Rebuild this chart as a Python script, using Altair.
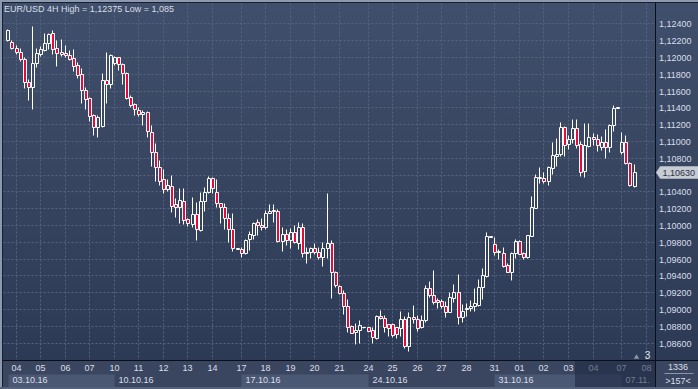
import altair as alt
import pandas as pd

# ---------------- data (EUR/USD 4H candles) ----------------
bar_open = [
    1.12204, 1.12176, 1.12104, 1.12057, 1.11977, 1.11700, 1.11648, 1.11926, 1.12037, 1.12085,
    1.12164, 1.12283, 1.12104, 1.12057, 1.12053, 1.12025, 1.11985, 1.11906, 1.11799, 1.11608,
    1.11509, 1.11311, 1.11164, 1.11180, 1.11724, 1.11676, 1.11926, 1.11997, 1.11918, 1.11807,
    1.11521, 1.11438, 1.11370, 1.11323, 1.11343, 1.11112, 1.10866, 1.10688, 1.10545, 1.10426,
    1.10470, 1.10251, 1.10212, 1.10291, 1.10073, 1.10013, 1.10128, 1.09942, 1.10291, 1.10398,
    1.10557, 1.10390, 1.10259, 1.10212, 1.10081, 1.09954, 1.09720, 1.09716, 1.09664, 1.09831,
    1.09882, 1.10033, 1.10001, 1.09982, 1.10140, 1.10168, 1.10172, 1.09815, 1.09890, 1.09823,
    1.09914, 1.09783, 1.09974, 1.09664, 1.09676, 1.09724, 1.09676, 1.09624, 1.09724, 1.09783,
    1.09438, 1.09279, 1.09188, 1.09037, 1.08799, 1.08724, 1.08751, 1.08781, 1.08783, 1.08751,
    1.08652, 1.08918, 1.08890, 1.08819, 1.08819, 1.08783, 1.08771, 1.08878, 1.08565, 1.08902,
    1.08878, 1.08783, 1.08870, 1.09247, 1.09168, 1.09109, 1.09097, 1.09041, 1.08970, 1.09136,
    1.09208, 1.08910, 1.08998, 1.09017, 1.09041, 1.09049, 1.09267, 1.09394, 1.09860, 1.09775,
    1.09676, 1.09664, 1.09525, 1.09446, 1.09664, 1.09815, 1.09664, 1.09617, 1.09874, 1.10208,
    1.10557, 1.10565, 1.10525, 1.10684, 1.10827, 1.10843, 1.11164, 1.10966, 1.11021, 1.11152,
    1.10962, 1.10644, 1.10946, 1.11045, 1.11025, 1.10934, 1.10985, 1.10934, 1.11192, 1.11396,
    1.10866, 1.10985, 1.10739, 1.10470,
]
bar_high = [
    1.12331, 1.12204, 1.12144, 1.12104, 1.11997, 1.11735, 1.12375, 1.12104, 1.12132, 1.12283,
    1.12291, 1.12323, 1.12204, 1.12216, 1.12144, 1.12085, 1.12093, 1.11946, 1.11874, 1.11648,
    1.11529, 1.11319, 1.11311, 1.11807, 1.12057, 1.12033, 1.12013, 1.12005, 1.11934, 1.11827,
    1.11549, 1.11450, 1.11402, 1.11370, 1.11362, 1.11192, 1.10974, 1.10775, 1.10664, 1.10545,
    1.10597, 1.10319, 1.10438, 1.10438, 1.10089, 1.10331, 1.10279, 1.10398, 1.10458, 1.10585,
    1.10577, 1.10545, 1.10267, 1.10259, 1.10140, 1.10140, 1.09726, 1.09743, 1.09835, 1.09930,
    1.10041, 1.10069, 1.10081, 1.10180, 1.10251, 1.10247, 1.10188, 1.09982, 1.09954, 1.09962,
    1.10001, 1.10041, 1.10021, 1.09743, 1.09743, 1.09783, 1.09743, 1.09803, 1.10378, 1.09823,
    1.09454, 1.09287, 1.09228, 1.09116, 1.08811, 1.08831, 1.08870, 1.08787, 1.08791, 1.08791,
    1.08930, 1.08990, 1.08930, 1.08823, 1.08831, 1.08791, 1.08978, 1.08922, 1.08970, 1.09049,
    1.08930, 1.08930, 1.09287, 1.09335, 1.09466, 1.09128, 1.09121, 1.09097, 1.09208, 1.09295,
    1.09414, 1.09057, 1.09069, 1.09109, 1.09255, 1.09355, 1.09494, 1.09922, 1.09866, 1.09863,
    1.09716, 1.09744, 1.09545, 1.09684, 1.09835, 1.09823, 1.09684, 1.09882, 1.10351, 1.10605,
    1.10696, 1.10628, 1.10708, 1.10993, 1.11033, 1.11224, 1.11184, 1.11073, 1.11263, 1.11263,
    1.11001, 1.11212, 1.11212, 1.11093, 1.11081, 1.11065, 1.11144, 1.11200, 1.11430, 1.11400,
    1.11105, 1.11073, 1.10755, 1.10724,
]
bar_low = [
    1.12196, 1.12093, 1.12037, 1.11958, 1.11636, 1.11489, 1.11378, 1.11878, 1.12013, 1.12077,
    1.12093, 1.12037, 1.11898, 1.12013, 1.12005, 1.11966, 1.11839, 1.11747, 1.11458, 1.11386,
    1.11243, 1.11073, 1.11045, 1.11172, 1.11458, 1.11636, 1.11906, 1.11847, 1.11680, 1.11497,
    1.11402, 1.11311, 1.11299, 1.11192, 1.11053, 1.10708, 1.10529, 1.10478, 1.10378, 1.10410,
    1.10160, 1.10093, 1.10021, 1.10013, 1.09993, 1.09982, 1.09823, 1.09934, 1.10172, 1.10378,
    1.10386, 1.10212, 1.10021, 1.09950, 1.09803, 1.09692, 1.09718, 1.09624, 1.09656, 1.09704,
    1.09835, 1.09882, 1.09942, 1.09954, 1.10140, 1.10041, 1.09803, 1.09692, 1.09763, 1.09724,
    1.09783, 1.09716, 1.09624, 1.09545, 1.09605, 1.09652, 1.09597, 1.09517, 1.09605, 1.09136,
    1.09267, 1.09180, 1.08938, 1.08732, 1.08712, 1.08581, 1.08593, 1.08779, 1.08739, 1.08593,
    1.08644, 1.08878, 1.08732, 1.08680, 1.08664, 1.08652, 1.08680, 1.08533, 1.08500, 1.08831,
    1.08743, 1.08771, 1.08851, 1.09148, 1.09061, 1.09009, 1.09009, 1.08910, 1.08965, 1.09081,
    1.08819, 1.08851, 1.08922, 1.08978, 1.08982, 1.09041, 1.09121, 1.09386, 1.09860, 1.09644,
    1.09597, 1.09505, 1.09438, 1.09347, 1.09605, 1.09652, 1.09597, 1.09613, 1.09870, 1.10204,
    1.10497, 1.10497, 1.10478, 1.10609, 1.10708, 1.10827, 1.10827, 1.10906, 1.10974, 1.10922,
    1.10589, 1.10577, 1.10934, 1.10954, 1.10882, 1.10894, 1.10795, 1.10866, 1.11124, 1.11396,
    1.10843, 1.10724, 1.10470, 1.10458,
]
bar_close = [
    1.12323, 1.12104, 1.12057, 1.11974, 1.11708, 1.11648, 1.11926, 1.12045, 1.12093, 1.12164,
    1.12275, 1.12093, 1.12053, 1.12037, 1.12021, 1.11974, 1.11898, 1.11787, 1.11605, 1.11505,
    1.11303, 1.11164, 1.11283, 1.11728, 1.11676, 1.12025, 1.12005, 1.11914, 1.11807, 1.11517,
    1.11430, 1.11378, 1.11319, 1.11351, 1.11120, 1.10866, 1.10688, 1.10529, 1.10430, 1.10478,
    1.10232, 1.10212, 1.10299, 1.10061, 1.10021, 1.10128, 1.09950, 1.10291, 1.10398, 1.10557,
    1.10446, 1.10267, 1.10212, 1.10081, 1.09954, 1.09724, 1.09724, 1.09664, 1.09823, 1.09890,
    1.10021, 1.10001, 1.09982, 1.10140, 1.10168, 1.10180, 1.09815, 1.09890, 1.09823, 1.09914,
    1.09795, 1.09974, 1.09664, 1.09676, 1.09724, 1.09676, 1.09624, 1.09724, 1.09783, 1.09438,
    1.09287, 1.09188, 1.09037, 1.08791, 1.08720, 1.08751, 1.08811, 1.08785, 1.08743, 1.08664,
    1.08922, 1.08890, 1.08783, 1.08779, 1.08692, 1.08704, 1.08882, 1.08565, 1.08902, 1.08878,
    1.08779, 1.08870, 1.09247, 1.09168, 1.09089, 1.09081, 1.09041, 1.08970, 1.09148, 1.09208,
    1.08910, 1.08978, 1.09017, 1.09041, 1.09069, 1.09267, 1.09406, 1.09874, 1.09866, 1.09684,
    1.09696, 1.09517, 1.09446, 1.09672, 1.09815, 1.09656, 1.09624, 1.09882, 1.10212, 1.10569,
    1.10577, 1.10525, 1.10696, 1.10835, 1.10843, 1.11172, 1.10954, 1.11025, 1.11152, 1.10954,
    1.10636, 1.10954, 1.11045, 1.11025, 1.10954, 1.10985, 1.10934, 1.11192, 1.11398, 1.11400,
    1.10985, 1.10736, 1.10478, 1.10630,
]

# first bar of each day (bar index) and its label
day_index = [2, 8, 14, 20, 26, 32, 38, 44, 50, 57, 63, 69, 75, 81, 88, 94, 100, 106, 112,
             119, 125, 131, 137, 143, 150, 156]
day_labels = ["04", "05", "06", "07", "10", "11", "12", "13", "14", "17", "18", "19", "20",
              "21", "24", "25", "26", "27", "28", "31", "01", "02", "03", "04", "07", "08"]

# first bar of each week and its label
week_index = [-4, 26, 57, 88, 119, 150]
week_labels = ["03.10.16", "10.10.16", "17.10.16", "24.10.16", "31.10.16", "07.11."]

price_ticks = [1.086, 1.088, 1.090, 1.092, 1.094, 1.096, 1.098, 1.100, 1.102, 1.104,
               1.106, 1.108, 1.110, 1.112, 1.114, 1.116, 1.118, 1.120, 1.122, 1.124]

title_text = "EUR/USD 4H High = 1,12375 Low = 1,085"
corner_top = "1336"
corner_bottom = ">157<"
shift_count = "3"

# ---------------- layout ----------------
W, H = 652, 357
X_DOMAIN = [0.15, 157.03]
Y_DOMAIN = [1.08394, 1.12644]
FONT = "Liberation Sans"
TXT = "#d9dfe8"
GRID = "#56647f"
RED = "#e8083a"

xs = alt.Scale(domain=X_DOMAIN, nice=False, zero=False, round=True)
ys = alt.Scale(domain=Y_DOMAIN, nice=False, zero=False, round=True)


def comma(v, nd=5):
    return f"{v:.{nd}f}".replace(".", ",")


n = len(bar_close)
candles = pd.DataFrame({
    "i": list(range(n)),
    "o": bar_open, "h": bar_high, "l": bar_low, "c": bar_close,
})
candles["top"] = candles[["o", "c"]].max(axis=1)
candles["bot"] = candles[["o", "c"]].min(axis=1)
candles["fillc"] = [RED if c < o else "transparent" for o, c in zip(bar_open, bar_close)]

days = pd.DataFrame({"i": day_index, "lab": day_labels})
ticks = pd.DataFrame({"p": price_ticks, "lab": [comma(p) for p in price_ticks]})
# the current-price tag hides the axis label it sits on
tick_labels = ticks[(ticks["p"] - bar_close[-1]).abs() > 0.0007]

wk_start = [max(w, X_DOMAIN[0]) for w in week_index]
wk_end = wk_start[1:] + [X_DOMAIN[1]]
weeks = pd.DataFrame({
    "x1": wk_start, "x2": wk_end, "lab": week_labels,
    "fillc": ["#4b5874" if k % 2 == 0 else "transparent" for k in range(len(week_labels))],
})
last = pd.DataFrame({"p": [bar_close[-1]], "lab": [comma(bar_close[-1])]})
one = pd.DataFrame({"a": [0]})

grad = alt.LinearGradient(
    gradient="linear",
    stops=[alt.GradientStop(color="#404f6b", offset=0),
           alt.GradientStop(color="#2d3a56", offset=1)],
    x1=0, x2=0, y1=0, y2=1,
)

bg = alt.Chart(one).mark_rect(color=grad).encode(
    x=alt.value(-4), x2=alt.value(695), y=alt.value(-4), y2=alt.value(H))

week_boxes = alt.Chart(weeks).mark_rect().encode(
    x=alt.X("x1:Q", scale=xs, axis=None), x2="x2:Q",
    y=alt.value(371), y2=alt.value(384),
    fill=alt.Fill("fillc:N", scale=None))

hgrid = alt.Chart(ticks).mark_rule(color=GRID, strokeDash=[2, 2], strokeWidth=1).encode(
    y=alt.Y("p:Q", scale=ys, axis=None), x=alt.value(0), x2=alt.value(W))
vgrid = alt.Chart(days).mark_rule(color=GRID, strokeDash=[2, 2], strokeWidth=1).encode(
    x=alt.X("i:Q", scale=xs, axis=None), y=alt.value(0), y2=alt.value(H))

wick_up = alt.Chart(candles).mark_rule(color="white", strokeWidth=1).encode(
    x=alt.X("i:Q", scale=xs, axis=None), y=alt.Y("h:Q", scale=ys, axis=None), y2="top:Q")
wick_dn = alt.Chart(candles).mark_rule(color="white", strokeWidth=1).encode(
    x=alt.X("i:Q", scale=xs, axis=None), y=alt.Y("bot:Q", scale=ys, axis=None), y2="l:Q")
body = alt.Chart(candles).mark_bar(width=3, xOffset=0.5, stroke="white", strokeWidth=1).encode(
    x=alt.X("i:Q", scale=xs, axis=None),
    y=alt.Y("top:Q", scale=ys, axis=None), y2="bot:Q",
    fill=alt.Fill("fillc:N", scale=None))

title = alt.Chart(one).mark_text(
    text=title_text, align="left", baseline="middle", font=FONT, fontSize=9, color=TXT
).encode(x=alt.value(0.5), y=alt.value(5))

ylabels = alt.Chart(tick_labels).mark_text(
    align="left", baseline="middle", font=FONT, fontSize=9, color=TXT
).encode(y=alt.Y("p:Q", scale=ys, axis=None), x=alt.value(655.5), text="lab:N")

price_tag = alt.Chart(last).mark_point(
    shape="M -1 0 L -0.8 -0.3 L 1 -0.3 L 1 0.3 L -0.8 0.3 Z",
    size=1764, filled=True, fill="#c6cbd4", strokeWidth=0, opacity=1
).encode(x=alt.value(673.5), y=alt.Y("p:Q", scale=ys, axis=None))
price_txt = alt.Chart(last).mark_text(
    align="left", baseline="middle", font=FONT, fontSize=9, color="#2a3242"
).encode(x=alt.value(659), y=alt.Y("p:Q", scale=ys, axis=None), text="lab:N")

xlabels = alt.Chart(days).mark_text(
    align="center", baseline="middle", font=FONT, fontSize=9, color=TXT
).encode(x=alt.X("i:Q", scale=xs, axis=None), y=alt.value(364.5), text="lab:N")
wlabels = alt.Chart(weeks).mark_text(
    align="left", baseline="middle", font=FONT, fontSize=9, color=TXT, dx=4
).encode(x=alt.X("x1:Q", scale=xs, axis=None), y=alt.value(376), text="lab:N")

shade = alt.Chart(one).mark_rect(color="#1c2640", opacity=0.55).encode(
    x=alt.value(571.5), x2=alt.value(W), y=alt.value(H + 0.5), y2=alt.value(385))

shift_tri = alt.Chart(one).mark_point(
    shape="triangle-up", size=30, filled=True, fill="#8b96aa", strokeWidth=0, opacity=1
).encode(x=alt.value(633), y=alt.value(353))
shift_txt = alt.Chart(one).mark_text(
    text=shift_count, align="center", baseline="middle", font=FONT, fontSize=10, color="#e6e9ef"
).encode(x=alt.value(644), y=alt.value(352.5))

corner_bg = alt.Chart(one).mark_rect(color="#3a4660").encode(
    x=alt.value(W + 0.5), x2=alt.value(695), y=alt.value(H + 0.5), y2=alt.value(386))
corner1 = alt.Chart(one).mark_text(
    text=corner_top, align="center", baseline="middle", font=FONT, fontSize=9, color=TXT
).encode(x=alt.value(674.5), y=alt.value(363.5))
corner_line = alt.Chart(one).mark_rule(color="#8a95a8", strokeWidth=1).encode(
    x=alt.value(661), x2=alt.value(690), y=alt.value(370))
corner2 = alt.Chart(one).mark_text(
    text=corner_bottom, align="center", baseline="middle", font=FONT, fontSize=9, color=TXT
).encode(x=alt.value(674.5), y=alt.value(377))

border_r = alt.Chart(one).mark_rule(color="#0a0e16", strokeWidth=1).encode(
    x=alt.value(W), y=alt.value(-4), y2=alt.value(386))
border_b = alt.Chart(one).mark_rule(color="#0a0e16", strokeWidth=1).encode(
    y=alt.value(H), x=alt.value(-4), x2=alt.value(695))
border_t = alt.Chart(one).mark_rule(color="#18202f", strokeWidth=1).encode(
    y=alt.value(-1), x=alt.value(-4), x2=alt.value(695))
border_l = alt.Chart(one).mark_rule(color="#18202f", strokeWidth=1).encode(
    x=alt.value(-1), y=alt.value(-4), y2=alt.value(386))
edge_t = alt.Chart(one).mark_rule(color="#8d99ae", strokeWidth=2).encode(
    y=alt.value(-2.5), x=alt.value(-4), x2=alt.value(695))
edge_l = alt.Chart(one).mark_rule(color="#8d99ae", strokeWidth=2).encode(
    x=alt.value(-2.5), y=alt.value(-4), y2=alt.value(386))
edge_b = alt.Chart(one).mark_rule(color="#56627c", strokeWidth=2).encode(
    y=alt.value(384.5), x=alt.value(-4), x2=alt.value(695))

chart = alt.layer(
    bg, week_boxes, hgrid, vgrid, wick_up, wick_dn, body, title,
    ylabels, price_tag, price_txt, xlabels, wlabels, shade, shift_tri, shift_txt,
    corner_bg, corner1, corner_line, corner2,
    border_r, border_b, border_t, border_l, edge_t, edge_l, edge_b,
).properties(
    width=W, height=H,
    padding={"left": 3.5, "top": 3.5, "right": 42.5, "bottom": 28.5},
    autosize="none",
    background="#3a4660",
).configure_view(strokeWidth=0)

chart.save("out.html", embed_options={"renderer": "svg", "actions": False})
